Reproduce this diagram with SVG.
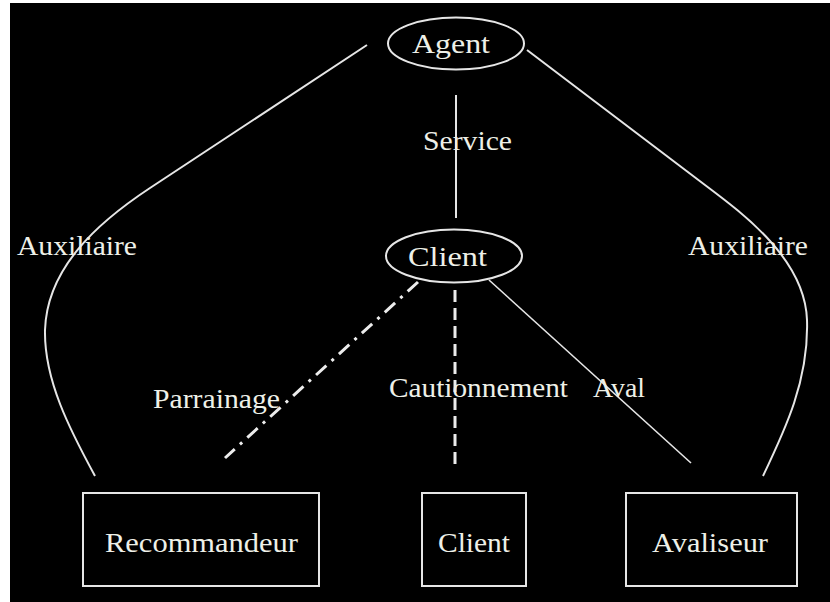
<svg xmlns="http://www.w3.org/2000/svg" width="830" height="602" viewBox="0 0 830 602">
<style>
.bg{fill:#000}
.shape{fill:none;stroke:#e6e6e6;stroke-width:2}
.line{fill:none;stroke:#e6e6e6;stroke-width:2}
.thin{fill:none;stroke:#e6e6e6;stroke-width:1.6}
.dashdot{fill:none;stroke:#ececec;stroke-width:3;stroke-dasharray:14 7 3 7}
.dash{fill:none;stroke:#ececec;stroke-width:3;stroke-dasharray:12 6}
text{font-family:"Liberation Serif","Times New Roman",serif;font-size:28px;fill:#eef0e8}
</style>
<rect x="0" y="0" width="830" height="602" fill="#fff"/>
<rect class="bg" x="10" y="3" width="820" height="599"/>
<g id="connectors">
<path class="line" d="M367,45 L150,188 C97,223 47,268 45,330 C44,380 70,430 95,476"/>
<path class="line" d="M527,50 L705,185 C745,215 805,260 807,320 C809,380 785,430 763,476"/>
<line class="line" x1="456" y1="95" x2="456" y2="218"/>
<line class="dashdot" x1="418" y1="282" x2="225" y2="458"/>
<line class="dash" x1="455" y1="290" x2="455" y2="464"/>
<line class="thin" x1="489" y1="280" x2="691" y2="463"/>
<text x="423" y="150" textLength="89" lengthAdjust="spacingAndGlyphs">Service</text>
<text x="17" y="255" textLength="120" lengthAdjust="spacingAndGlyphs">Auxiliaire</text>
<text x="688" y="255" textLength="120" lengthAdjust="spacingAndGlyphs">Auxiliaire</text>
<text x="153" y="408" textLength="127" lengthAdjust="spacingAndGlyphs">Parrainage</text>
<text x="389" y="397" textLength="179" lengthAdjust="spacingAndGlyphs">Cautionnement</text>
<text x="593" y="397" textLength="52" lengthAdjust="spacingAndGlyphs">Aval</text>
</g>
<g id="agent">
<ellipse class="shape" cx="456" cy="43.5" rx="68" ry="26"/>
<text x="412" y="53" textLength="78" lengthAdjust="spacingAndGlyphs">Agent</text>
</g>
<g id="client-role">
<ellipse class="shape" cx="454" cy="256" rx="68" ry="26.5"/>
<text x="408" y="266" textLength="79" lengthAdjust="spacingAndGlyphs">Client</text>
</g>
<g id="recommandeur">
<rect class="shape" x="83" y="493" width="236" height="93"/>
<text x="105" y="552" textLength="193" lengthAdjust="spacingAndGlyphs">Recommandeur</text>
</g>
<g id="client">
<rect class="shape" x="422" y="493" width="104" height="93"/>
<text x="438" y="552" textLength="72" lengthAdjust="spacingAndGlyphs">Client</text>
</g>
<g id="avaliseur">
<rect class="shape" x="626" y="493" width="171" height="93"/>
<text x="652" y="552" textLength="116" lengthAdjust="spacingAndGlyphs">Avaliseur</text>
</g>
</svg>
